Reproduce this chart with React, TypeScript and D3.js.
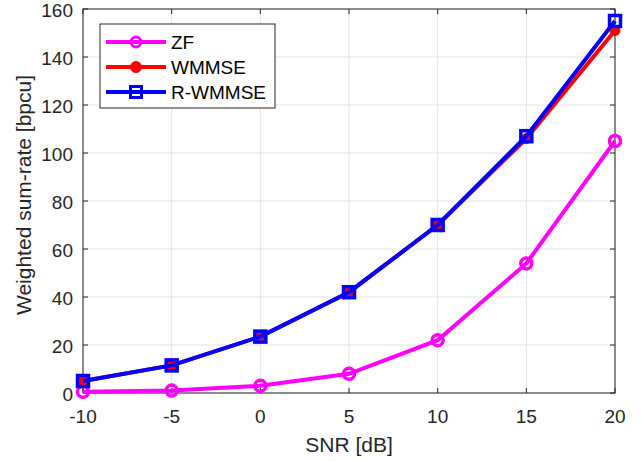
import React from "react";
import * as d3 from "d3";

const snr = [-10, -5, 0, 5, 10, 15, 20];
const zf = [0.5, 1, 3, 8, 22, 54, 105];
const wmmse = [5, 11.5, 23.5, 42, 70, 106, 151];
const rwmmse = [5, 11.5, 23.5, 42, 70, 107, 155];
const xTicks = [-10, -5, 0, 5, 10, 15, 20];
const yTicks = [0, 20, 40, 60, 80, 100, 120, 140, 160];

const W = 642, H = 461;
const L = 83, R = 615, T = 9, B = 393;
const font = "'Liberation Sans', Arial, Helvetica, sans-serif";

export default function App() {
  const x = d3.scaleLinear().domain([-10, 20]).range([L, R]);
  const y = d3.scaleLinear().domain([0, 160]).range([B, T]);
  const line = d3.line<number>().x((_, i) => x(snr[i])).y((v) => y(v));
  const axisColor = "#262626";
  const tl = 5;
  const lw = 4;
  return (
    <svg width={W} height={H} style={{ position: "absolute", left: 0, top: 0, background: "#fff" }}>
      <rect x={0} y={0} width={W} height={H} fill="#fff" />
      {xTicks.map((t) => (
        <line key={"gx" + t} x1={x(t)} x2={x(t)} y1={T} y2={B} stroke="#e3e3e3" strokeWidth={1} />
      ))}
      {yTicks.map((t) => (
        <line key={"gy" + t} x1={L} x2={R} y1={y(t)} y2={y(t)} stroke="#e3e3e3" strokeWidth={1} />
      ))}
      {xTicks.map((t) => (
        <g key={"tx" + t}>
          <line x1={x(t)} x2={x(t)} y1={B} y2={B - tl} stroke={axisColor} />
          <line x1={x(t)} x2={x(t)} y1={T} y2={T + tl} stroke={axisColor} />
          <text x={x(t)} y={423} textAnchor="middle" fontFamily={font} fontSize={19} fill={axisColor}>{t}</text>
        </g>
      ))}
      {yTicks.map((t) => (
        <g key={"ty" + t}>
          <line x1={L} x2={L + tl} y1={y(t)} y2={y(t)} stroke={axisColor} />
          <line x1={R} x2={R - tl} y1={y(t)} y2={y(t)} stroke={axisColor} />
          <text x={73} y={y(t) + 7.5} textAnchor="end" fontFamily={font} fontSize={19} fill={axisColor}>{t}</text>
        </g>
      ))}
      <rect x={L} y={T} width={R - L} height={B - T} fill="none" stroke={axisColor} strokeWidth={1} />
      <path d={line(zf) || ""} fill="none" stroke="#ff00ff" strokeWidth={lw} />
      {zf.map((v, i) => (
        <circle key={"z" + i} cx={x(snr[i])} cy={y(v)} r={5.5} fill="none" stroke="#ff00ff" strokeWidth={3.5} />
      ))}
      <path d={line(wmmse) || ""} fill="none" stroke="#ff0000" strokeWidth={lw} />
      {wmmse.map((v, i) => (
        <circle key={"w" + i} cx={x(snr[i])} cy={y(v)} r={5} fill="#ff0000" stroke="#ff0000" strokeWidth={1} />
      ))}
      <path d={line(rwmmse) || ""} fill="none" stroke="#0000ff" strokeWidth={lw} />
      {rwmmse.map((v, i) => (
        <rect key={"r" + i} x={x(snr[i]) - 5.5} y={y(v) - 5.5} width={11} height={11} fill="none" stroke="#0000ff" strokeWidth={3.5} />
      ))}
      <rect x={100} y={24} width={175} height={84} fill="#fff" stroke={axisColor} strokeWidth={1} />
      {[
        { name: "ZF", c: "#ff00ff", m: "o" },
        { name: "WMMSE", c: "#ff0000", m: "f" },
        { name: "R-WMMSE", c: "#0000ff", m: "s" },
      ].map((e, i) => {
        const ly = 42 + i * 25;
        return (
          <g key={e.name}>
            <line x1={106} x2={166} y1={ly} y2={ly} stroke={e.c} strokeWidth={lw} />
            {e.m === "o" && <circle cx={136} cy={ly} r={5} fill="none" stroke={e.c} strokeWidth={3} />}
            {e.m === "f" && <circle cx={136} cy={ly} r={5.5} fill={e.c} stroke={e.c} />}
            {e.m === "s" && <rect x={130.5} y={ly - 5.5} width={11} height={11} fill="none" stroke={e.c} strokeWidth={3} />}
            <text x={171} y={ly + 7} fontFamily={font} fontSize={19} fill="#000">{e.name}</text>
          </g>
        );
      })}
      <text x={349} y={452} textAnchor="middle" fontFamily={font} fontSize={21} fill={axisColor}>SNR [dB]</text>
      <text transform={`translate(31,${(T + B) / 2 - 6}) rotate(-90)`} textAnchor="middle" fontFamily={font} fontSize={21} fill={axisColor}>Weighted sum-rate [bpcu]</text>
    </svg>
  );
}
